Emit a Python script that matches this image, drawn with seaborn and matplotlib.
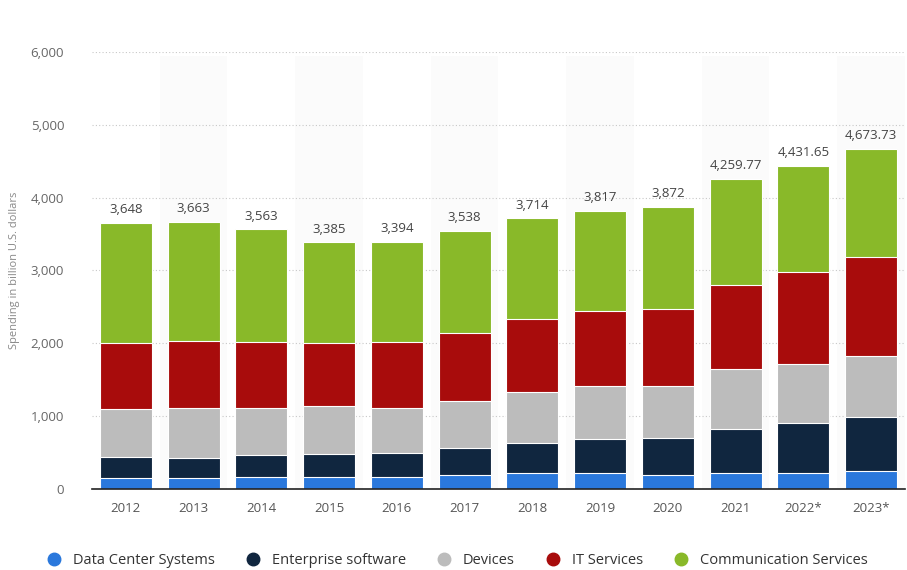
import pandas as pd
import seaborn as sns
import matplotlib.pyplot as plt
from matplotlib.lines import Line2D
from matplotlib.ticker import FuncFormatter

years = ["2012", "2013", "2014", "2015", "2016", "2017",
         "2018", "2019", "2020", "2021", "2022*", "2023*"]
data_center = [151, 151, 169, 169, 169, 192, 224, 224, 188, 224, 224, 243]
enterprise_software = [289, 279, 298, 312, 330, 367, 412, 457, 517, 605, 678, 750]
devices = [659, 687, 650, 659, 618, 654, 701, 734, 710, 824, 815, 830]
it_services = [906, 916, 898, 861, 898, 925, 1003, 1034, 1053, 1153, 1268, 1368]
communication = [1643, 1630, 1548, 1384, 1379, 1400, 1374, 1368, 1404, 1453.77, 1446.65, 1482.73]
total_labels = ["3,648", "3,663", "3,563", "3,385", "3,394", "3,538",
                "3,714", "3,817", "3,872", "4,259.77", "4,431.65", "4,673.73"]

series = ["Data Center Systems", "Enterprise software", "Devices",
          "IT Services", "Communication Services"]
colors = ["#2a78dc", "#10263f", "#bcbcbc", "#a80c0c", "#89b929"]

df = pd.DataFrame({
    "year": years,
    "Data Center Systems": data_center,
    "Enterprise software": enterprise_software,
    "Devices": devices,
    "IT Services": it_services,
    "Communication Services": communication,
})
# cumulative heights for layered stacking
cum = df[series].cumsum(axis=1)
cum["year"] = years

sns.set_style("white")
plt.rcParams["font.family"] = ["Open Sans", "DejaVu Sans"]

fig = plt.figure(figsize=(9.07, 5.70), dpi=100)
ax = fig.add_axes([0.1014, 0.1421, 0.8964, 0.7667])

# faint shading behind every other column
for i in range(1, len(years), 2):
    ax.axvspan(i - 0.5, i + 0.5, ymax=0.99, color="#fbfbfb", zorder=0, lw=0)

for name, col in reversed(list(zip(series, colors))):
    sns.barplot(data=cum, x="year", y=name, color=col, width=0.77,
                edgecolor="white", linewidth=0.8, saturation=1,
                ax=ax, zorder=2)

ax.bar_label(ax.containers[0], labels=total_labels, padding=5,
             fontsize=9.5, color="#444444")

ax.set_ylim(0, 6000)
ax.set_xlim(-0.5, len(years) - 0.5)
ax.set_yticks(range(0, 6001, 1000))
ax.yaxis.set_major_formatter(FuncFormatter(lambda v, p: f"{v:,.0f}"))
ax.grid(axis="y", linestyle=(0, (1, 2)), color="#c8c8c8", linewidth=0.8, zorder=1)
ax.set_axisbelow(True)
for s in ["top", "right", "left"]:
    ax.spines[s].set_visible(False)
ax.spines["bottom"].set_color("#222222")
ax.spines["bottom"].set_linewidth(1.2)
ax.spines["bottom"].set_zorder(3)
ax.tick_params(axis="y", length=0, pad=20, labelsize=9.5, labelcolor="#666666")
ax.tick_params(axis="x", length=0, pad=9, labelsize=9.5, labelcolor="#555555")
ax.set_xlabel("")
ax.set_ylabel("Spending in billion U.S. dollars", fontsize=8, color="#888888")
ax.yaxis.set_label_coords(-0.088, 0.5)

handles = [Line2D([], [], marker="o", linestyle="", markersize=9,
                  markerfacecolor=c, markeredgecolor=c) for c in colors]
fig.legend(handles, series, loc="center", bbox_to_anchor=(0.5, 0.016),
           ncol=5, frameon=False, fontsize=10.5, handletextpad=0.3,
           columnspacing=1.6, labelcolor="#333333")

fig.savefig("out.png", dpi=100)
